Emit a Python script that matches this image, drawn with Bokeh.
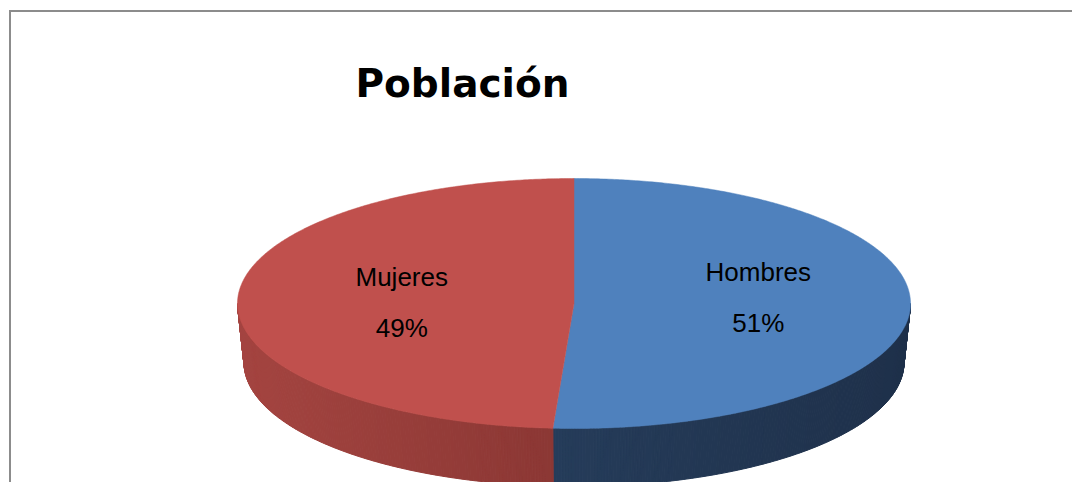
import numpy as np
from bokeh.plotting import figure
from bokeh.models import Range1d, Label, ColumnDataSource
from bokeh.core.properties import value
from bokeh.embed import file_html
from bokeh.resources import INLINE

# ---- data ----
categories = ["Hombres", "Mujeres"]
percentages = [51, 49]
title_text = "Población"

# ---- style ----
top_colors = ["#4F81BD", "#C0504D"]
side_left = [(44, 71, 104), (164, 68, 64)]
side_right = [(30, 48, 74), (112, 41, 39)]

W, H = 1072, 482
p = figure(width=W, height=H, output_backend="svg", toolbar_location=None,
           x_range=Range1d(0, W), y_range=Range1d(H, 0),
           x_axis_location=None, y_axis_location=None, min_border=0,
           outline_line_color=None, background_fill_color="white",
           border_fill_color="white")
p.grid.visible = False

# pie geometry (screen-like coordinates)
cx, cy, rx, ry = 573.5, 303.0, 336.5, 125.0
cxb, cyb, rxb, ryb = 573.5, 362.0, 330.0, 124.0

vals = np.array(percentages, dtype=float)
fr = vals / vals.sum()
ends = np.cumsum(fr) * 360.0
starts = ends - fr * 360.0

def top_pt(t):
    r = np.radians(t)
    return cx + rx * np.sin(r), cy - ry * np.cos(r)

def bot_pt(t):
    r = np.radians(t)
    return cxb + rxb * np.sin(r), cyb - ryb * np.cos(r)

# sides (front half only)
xs_s, ys_s, cols_s = [], [], []
xmin, xmax = cx - rx, cx + rx
for i in range(len(vals)):
    a0, a1 = max(starts[i], 90.0), min(ends[i], 270.0)
    if a1 <= a0:
        continue
    n = max(int((a1 - a0) / 0.5), 2)
    ts = np.linspace(a0, a1, n + 1)
    for k in range(n):
        t0, t1 = ts[k], ts[k + 1]
        x0, y0 = top_pt(t0); x1, y1 = top_pt(t1)
        bx0, by0 = bot_pt(t0); bx1, by1 = bot_pt(t1)
        xs_s.append([x0, x1, bx1, bx0]); ys_s.append([y0, y1, by1, by0])
        xm = (x0 + x1) / 2
        f = (xm - xmin) / (xmax - xmin)
        c = tuple(int(round(side_left[i][j] + (side_right[i][j] - side_left[i][j]) * f)) for j in range(3))
        cols_s.append("#%02x%02x%02x" % c)

p.patches(xs="xs", ys="ys", source=ColumnDataSource(dict(xs=xs_s, ys=ys_s, c=cols_s)),
          fill_color="c", line_color="c", line_width=1)

# top faces
xs_t, ys_t = [], []
for i in range(len(vals)):
    ts = np.linspace(starts[i], ends[i], 400)
    px = [cx] + [top_pt(t)[0] for t in ts]
    py = [cy] + [top_pt(t)[1] for t in ts]
    xs_t.append(px); ys_t.append(py)
p.patches(xs="xs", ys="ys", source=ColumnDataSource(dict(xs=xs_t, ys=ys_t, c=top_colors)),
          fill_color="c", line_color="c", line_width=0.5)

# labels
mid = (starts + ends) / 2
lx = [cx + 0.53 * rx * np.sin(np.radians(m)) + 6 for m in mid]
ly = [cy + 0.53 * ry * np.cos(np.radians(m)) for m in mid]
pct = ["%d%%" % v for v in percentages]
src = ColumnDataSource(dict(x=lx, y=ly, name=categories, pct=pct))
p.text(x="x", y="y", text="name", source=src, text_align="center",
       text_baseline="alphabetic", y_offset=-29, text_font=value("Liberation Sans"),
       text_font_size="26px", text_color="black")
p.text(x="x", y="y", text="pct", source=src, text_align="center",
       text_baseline="alphabetic", y_offset=22, text_font=value("Liberation Sans"),
       text_font_size="26px", text_color="black")

# chart border (top and left visible) as thin filled bands
p.quad(left=[8.5, 8.5], right=[10.5, W + 10], top=[9.5, 9.5], bottom=[H + 10, 11.5],
       fill_color="#8c8c8c", line_color=None)

p.add_layout(Label(x=462, y=83, text=title_text, text_align="center",
                   text_baseline="alphabetic", text_font="DejaVu Sans",
                   text_font_style="bold", text_font_size="39px", text_color="black"))

open("out.html", "w").write(file_html(p, INLINE))
